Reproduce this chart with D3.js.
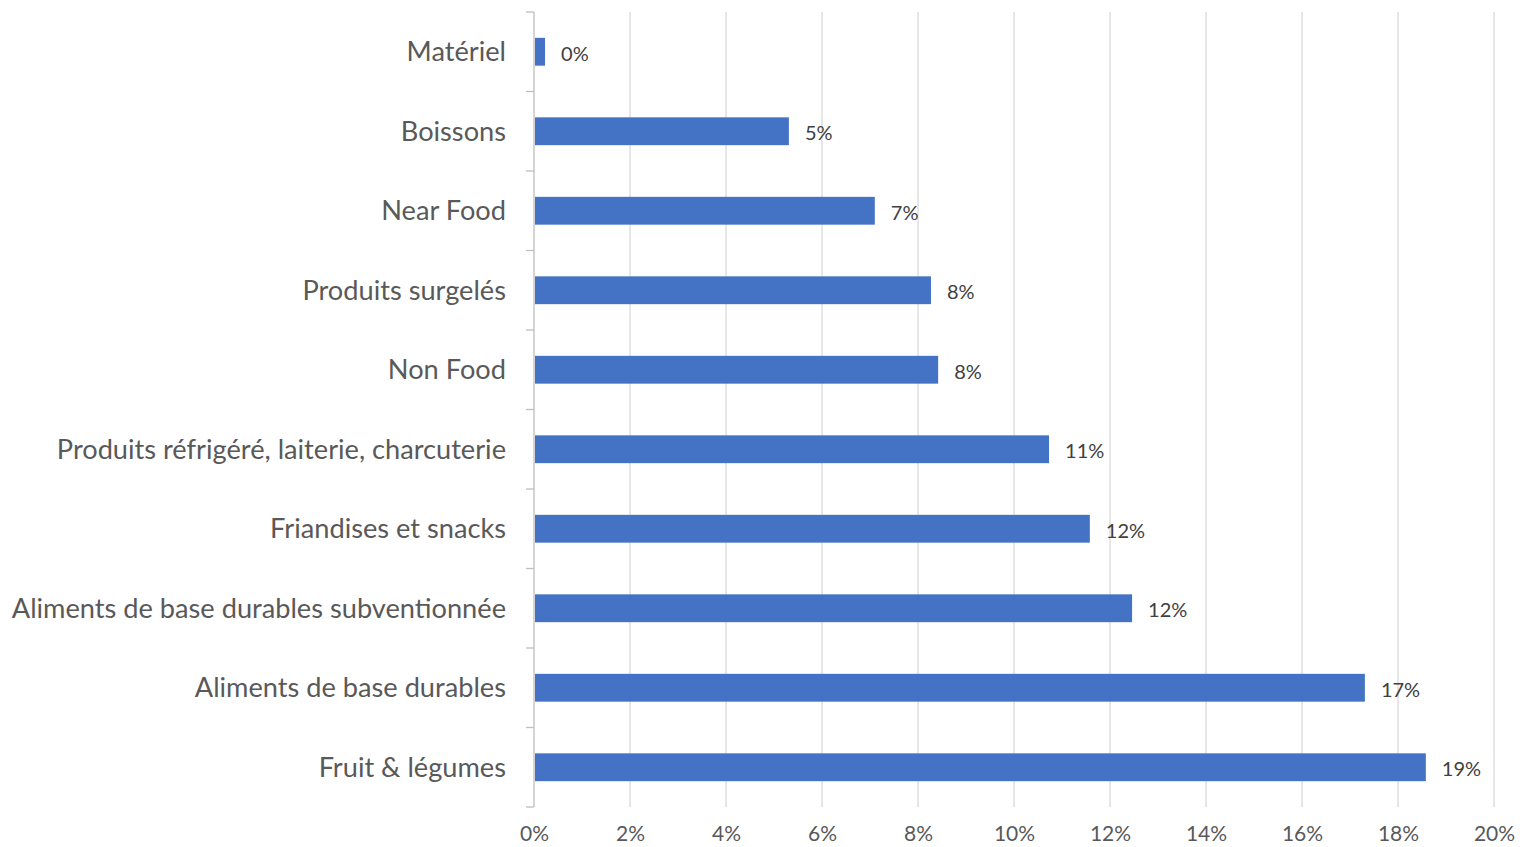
<!DOCTYPE html>
<html><head><meta charset="utf-8">
<script src="https://cdn.jsdelivr.net/npm/d3@7/dist/d3.min.js"></script>
<style>body{margin:0;background:#fff;} svg{display:block;}</style>
</head><body>
<svg id="chart" width="1523" height="847"></svg>
<script>
const categories = ["Matériel","Boissons","Near Food","Produits surgelés","Non Food","Produits réfrigéré, laiterie, charcuterie","Friandises et snacks","Aliments de base durables subventionnée","Aliments de base durables","Fruit & légumes"];
const values = [0.0023,0.0531,0.0710,0.0827,0.0842,0.1073,0.1158,0.1246,0.1731,0.1858];
const xTicks = [0,0.02,0.04,0.06,0.08,0.10,0.12,0.14,0.16,0.18,0.20];

const svg = d3.select("#chart");
const font = "Lato, 'Open Sans', sans-serif";
const m = {left:534, right:1494, top:12, bottom:807};

const x = d3.scaleLinear().domain([0,0.20]).range([m.left, m.right]);
const y = d3.scaleBand().domain(categories).range([m.top, m.bottom]).paddingInner(0.65).paddingOuter(0.325);
const yb = d3.scaleBand().domain(categories).range([m.top, m.bottom]);

// gridlines
svg.append("g").selectAll("line").data(xTicks.slice(1)).join("line")
  .attr("x1", d=>x(d)).attr("x2", d=>x(d)).attr("y1", m.top).attr("y2", m.bottom)
  .attr("stroke", "#D9D9D9").attr("stroke-width", 1.3);

// x axis labels
const xAxis = d3.axisBottom(x).tickValues(xTicks).tickFormat(d3.format(".0%")).tickSize(0).tickPadding(19);
const gx = svg.append("g").attr("transform", `translate(0,${m.bottom})`).call(xAxis);
gx.select(".domain").remove();
gx.selectAll("text").attr("font-family", font).attr("font-size", 21).attr("fill", "#595959");

// y axis with ticks at band boundaries
const gy = svg.append("g");
gy.append("line").attr("x1", m.left).attr("x2", m.left).attr("y1", m.top).attr("y2", m.bottom)
  .attr("stroke", "#BFBFBF").attr("stroke-width", 1.3);
const bounds = categories.map(c => yb(c)).concat([m.bottom]);
gy.selectAll("line.tk").data(bounds).join("line").attr("class","tk")
  .attr("x1", m.left-8).attr("x2", m.left).attr("y1", d=>d).attr("y2", d=>d)
  .attr("stroke", "#BFBFBF").attr("stroke-width", 1.3);
gy.selectAll("text").data(categories).join("text")
  .attr("x", m.left-28).attr("y", d => yb(d) + yb.bandwidth()/2 - 1)
  .attr("text-anchor", "end").attr("dominant-baseline", "central")
  .attr("font-family", font).attr("font-size", 27.2).attr("fill", "#595959")
  .text(d=>d);

// bars
svg.append("g").selectAll("rect").data(values).join("rect")
  .attr("x", x(0)+1).attr("y", (d,i)=>y(categories[i]))
  .attr("width", d=>x(d)-x(0)-1).attr("height", y.bandwidth())
  .attr("fill", "#4472C4");

// data labels
svg.append("g").selectAll("text").data(values).join("text")
  .attr("x", d=>x(d)+16).attr("y", (d,i)=>y(categories[i]) + y.bandwidth()/2 + 1)
  .attr("dominant-baseline", "central")
  .attr("font-family", font).attr("font-size", 20).attr("fill", "#404040")
  .text(d=>d3.format(".0%")(d));
</script>
</body></html>
